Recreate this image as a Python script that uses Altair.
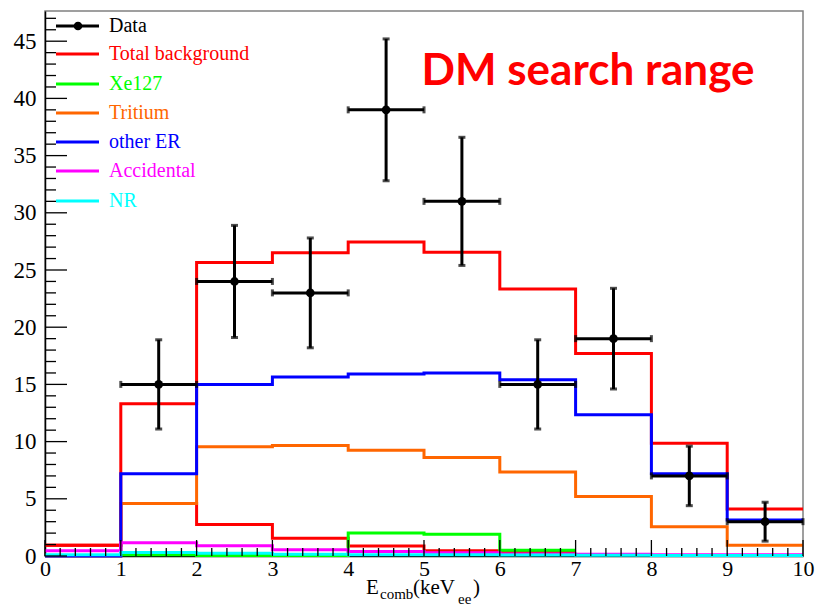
import altair as alt
import pandas as pd

# Histogram binning in combined energy (keV_ee)
edges = [0, 1, 2, 3, 4, 5, 6, 7, 8, 9, 10]

# Observed events per bin (bin centres, counts, symmetric errors)
data_x = [1.5, 2.5, 3.5, 4.5, 5.5, 6.5, 7.5, 8.5, 9.5]
data_y = [15, 24, 23, 39, 31, 15, 19, 7, 3]
data_err = [3.9, 4.9, 4.8, 6.2, 5.6, 3.9, 4.4, 2.6, 1.7]

# Background model components, one value per bin
total_bkg = [0.95, 13.3, 25.65, 26.5, 27.45, 26.55, 23.35, 17.7, 9.85, 4.1]
residual_bkg = [0.95, 4.6, 2.75, 1.55, 0.87, 0.46, 0.3]        # bins 0-7
xe127 = [0.1, 0.05, 0.05, 2.0, 1.9, 0.5]                         # bins 1-7
tritium = [0.0, 4.6, 9.55, 9.65, 9.25, 8.6, 7.35, 5.2, 2.55, 0.95]
other_er = [0.0, 7.2, 15.0, 15.65, 15.9, 16.0, 15.4, 12.35, 7.2, 3.15]
accidental = [0.45, 1.15, 0.9, 0.55, 0.4, 0.28, 0.18, 0.15, 0.12, 0.1]
nr = [0.12, 0.3, 0.25, 0.15, 0.12, 0.1, 0.08, 0.06, 0.05, 0.05]

legend_labels = ["Data", "Total background", "Xe127", "Tritium", "other ER", "Accidental", "NR"]
legend_colors = ["#000000", "#ff0000", "#00ff00", "#ff6600", "#0000ff", "#ff00ff", "#00ffff"]

y_ticks_major = [0, 5, 10, 15, 20, 25, 30, 35, 40, 45]

W, H = 758, 545
Y_MAX = 47.64

xscale = alt.Scale(domain=[0, 10], nice=False, zero=False)
yscale = alt.Scale(domain=[0, Y_MAX], nice=False, zero=False)
SERIF = "Liberation Serif"

# Same axis definition in every layer so that they merge into one
AX = alt.Axis(values=edges, format="d", ticks=False, grid=False, title=None,
              labelFont=SERIF, labelFontSize=22, labelColor="black", labelPadding=2,
              domainColor="black", domainWidth=1.5, labelFlush=False)
AY = alt.Axis(values=y_ticks_major, format="d", ticks=False, grid=False, title=None,
              labelFont=SERIF, labelFontSize=23, labelColor="black", labelPadding=9,
              domainColor="black", domainWidth=1.5, labelFlush=False)


def xenc(field="x"):
    return alt.X(f"{field}:Q", scale=xscale, axis=AX)


def yenc(field="y"):
    return alt.Y(f"{field}:Q", scale=yscale, axis=AY)


def step_frame(values, first_bin=0):
    xs = edges[first_bin:first_bin + len(values) + 1]
    ys = list(values) + [values[-1]]
    return pd.DataFrame({"x": xs, "y": ys})


def hist_layer(values, color, first_bin=0):
    return alt.Chart(step_frame(values, first_bin)).mark_line(
        interpolate="step-after", color=color, strokeWidth=3
    ).encode(x=xenc(), y=yenc())


x_minor = [round(i * 0.2, 1) for i in range(51) if i % 5]
y_minor = [v for v in range(1, 48) if v % 5]

# Inward-pointing tick marks
xt_major = alt.Chart(pd.DataFrame({"x": edges})).mark_rule(color="black", strokeWidth=1.3).encode(
    x=xenc(), y=alt.value(H), y2=alt.value(H - 16))
xt_minor = alt.Chart(pd.DataFrame({"x": x_minor})).mark_rule(color="black", strokeWidth=1.3).encode(
    x=xenc(), y=alt.value(H), y2=alt.value(H - 8))
yt_major = alt.Chart(pd.DataFrame({"y": y_ticks_major})).mark_rule(color="black", strokeWidth=1.3).encode(
    y=yenc(), x=alt.value(0), x2=alt.value(22))
yt_minor = alt.Chart(pd.DataFrame({"y": y_minor})).mark_rule(color="black", strokeWidth=1.3).encode(
    y=yenc(), x=alt.value(0), x2=alt.value(11))

# Data points with error bars
pts = pd.DataFrame({
    "x": data_x, "y": data_y,
    "xlo": [v - 0.5 for v in data_x], "xhi": [v + 0.5 for v in data_x],
    "ylo": [v - e for v, e in zip(data_y, data_err)],
    "yhi": [v + e for v, e in zip(data_y, data_err)],
})
err_h = alt.Chart(pts).mark_rule(color="black", strokeWidth=3).encode(
    x=xenc("xlo"), x2="xhi:Q", y=yenc())
err_v = alt.Chart(pts).mark_rule(color="black", strokeWidth=3).encode(
    x=xenc(), y=yenc("ylo"), y2="yhi:Q")
cap_l = alt.Chart(pts).mark_tick(color="black", orient="vertical", size=7, thickness=3).encode(
    x=xenc("xlo"), y=yenc())
cap_r = alt.Chart(pts).mark_tick(color="black", orient="vertical", size=7, thickness=3).encode(
    x=xenc("xhi"), y=yenc())
cap_b = alt.Chart(pts).mark_tick(color="black", orient="horizontal", size=7, thickness=3).encode(
    x=xenc(), y=yenc("ylo"))
cap_t = alt.Chart(pts).mark_tick(color="black", orient="horizontal", size=7, thickness=3).encode(
    x=xenc(), y=yenc("yhi"))
dots = alt.Chart(pts).mark_circle(color="black", size=75, opacity=1).encode(x=xenc(), y=yenc())

# Legend box in the upper left corner
leg = pd.DataFrame({
    "label": legend_labels, "col": legend_colors,
    "py": [15, 43, 73, 102, 131, 160, 190],
})
leg_lines = alt.Chart(leg).mark_rule(strokeWidth=3).encode(
    x=alt.value(11), x2=alt.value(54),
    y=alt.Y("py:Q", scale=None, axis=None),
    color=alt.Color("col:N", scale=None, legend=None))
leg_text = alt.Chart(leg).mark_text(align="left", baseline="middle", font=SERIF, fontSize=20).encode(
    x=alt.value(64),
    y=alt.Y("py:Q", scale=None, axis=None),
    text="label:N",
    color=alt.Color("col:N", scale=None, legend=None))
leg_dot = alt.Chart(leg.iloc[:1]).mark_circle(color="black", size=75, opacity=1).encode(
    x=alt.value(33), y=alt.Y("py:Q", scale=None, axis=None))

headline = alt.Chart(pd.DataFrame({"t": ["DM search range"]})).mark_text(
    font="Lato", fontWeight="bold", fontSize=44, color="#ff0000", align="center", baseline="middle"
).encode(text="t:N", x=alt.value(543), y=alt.value(61))

# X-axis title with subscripts: E_comb(keV_ee)
title_parts = [
    ("E", 321, 583, 21), ("comb", 335, 588, 15), ("(keV", 368, 583, 21),
    ("ee", 413, 593, 15), (")", 428, 583, 21),
]
title_layers = [
    alt.Chart(pd.DataFrame({"t": [s]})).mark_text(
        font=SERIF, fontSize=fs, color="black", align="left", baseline="alphabetic"
    ).encode(text="t:N", x=alt.value(px), y=alt.value(py))
    for s, px, py, fs in title_parts
]

chart = alt.layer(
    hist_layer(total_bkg, "#ff0000"),
    hist_layer(residual_bkg, "#ff0000"),
    hist_layer(tritium, "#ff6600"),
    hist_layer(xe127, "#00ff00", first_bin=1),
    hist_layer(other_er, "#0000ff"),
    hist_layer(accidental, "#ff00ff"),
    hist_layer(nr, "#00ffff"),
    xt_major, xt_minor, yt_major, yt_minor,
    err_h, err_v, cap_l, cap_r, cap_b, cap_t, dots,
    leg_lines, leg_dot, leg_text, headline, *title_layers,
).properties(
    width=W, height=H,
    autosize=alt.AutoSizeParams(type="none"),
    padding={"left": 45, "top": 11, "right": 21, "bottom": 50},
    background="white",
).configure_view(stroke="#808080", strokeWidth=1.5)

chart.save("out.html", embed_options={"renderer": "svg", "actions": False})
